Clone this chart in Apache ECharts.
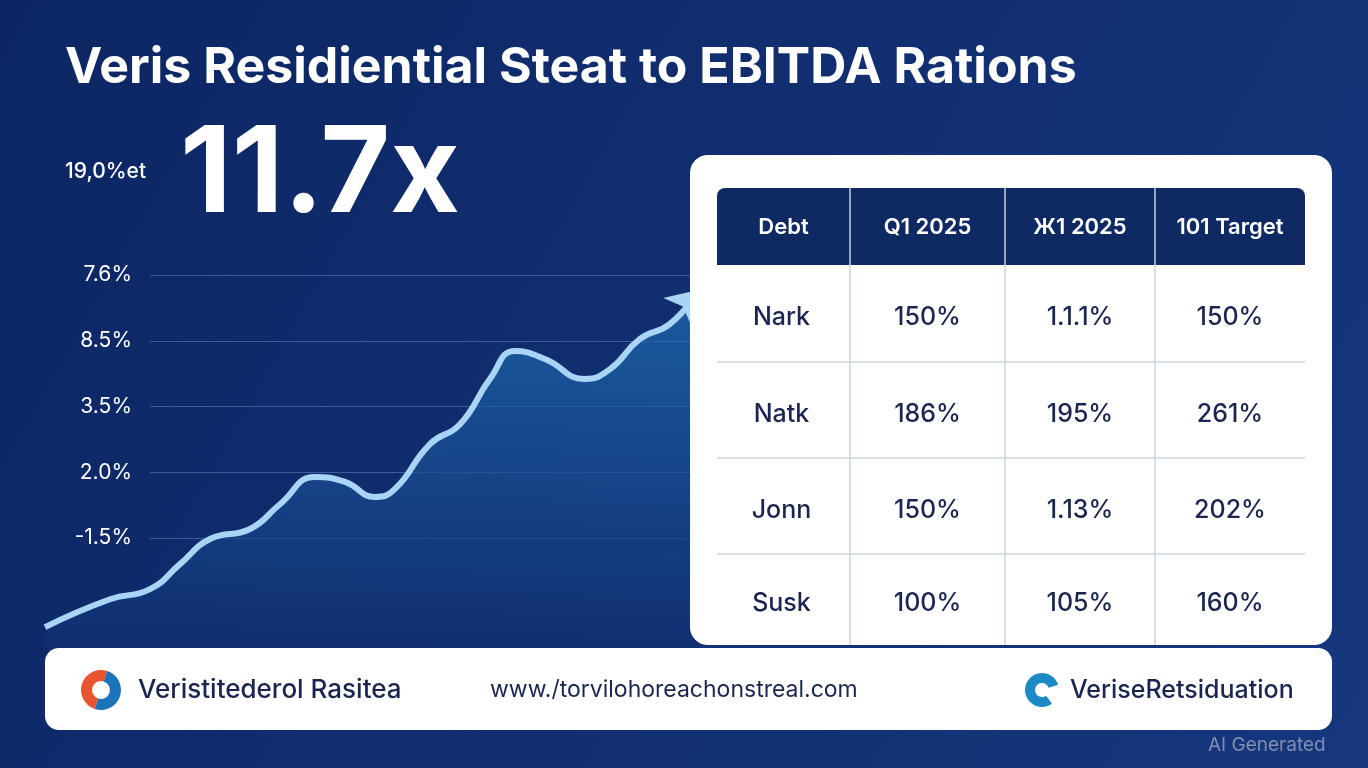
<!DOCTYPE html>
<html><head><meta charset="utf-8">
<script src="https://cdn.jsdelivr.net/npm/echarts@6/dist/echarts.min.js"></script>
<style>html,body{margin:0;padding:0;background:#0f2a63}#c{width:1368px;height:768px}</style>
</head><body><div id="c"></div>
<script>
const title = 'Veris Residiential Steat to EBITDA Rations';
const kpiLabel = '19,0%et';
const kpiValue = '11.7x';
const yTickLabels = ['-1.5%', '2.0%', '3.5%', '8.5%', '7.6%'];
const lineX = [0,6.5,10.5,13.5,16.5,20.5,23.5,27,30,33,35,38.5,41.5,44.5,47,50,54,56.5,59.5,62.5,65.5];
const lineY = [0,8,10.9,18.1,25.3,28.2,35.3,43.1,41.7,37.4,39.7,52.6,58.3,71.3,79.3,77,71.3,74.1,82.8,87.1,97];
const tableHeader = ['Debt', 'Q1 2025', 'Ж1 2025', '101 Target'];
const tableRows = [
  ['Nark', '150%', '1.1.1%', '150%'],
  ['Natk', '186%', '195%', '261%'],
  ['Jonn', '150%', '1.13%', '202%'],
  ['Susk', '100%', '105%', '160%']
];
const footerLeft = 'Veristitederol Rasitea';
const footerUrl = 'www./torvilohoreachonstreal.com';
const footerRight = 'VeriseRetsiduation';

const chart = echarts.init(document.getElementById('c'));
const F = 'Inter, "Noto Sans", sans-serif';
const g = [];
g.push({type:'rect',shape:{x:690,y:155,width:642,height:490,r:18},style:{fill:'#fff'},z:10});
g.push({type:'rect',shape:{x:717,y:188,width:588,height:77,r:[8,8,0,0]},style:{fill:'#0f2a63'},z:11});
const colX=[717,850,1005,1155,1305];
const rowY=[265,362,458,554,645];
for(let i=1;i<4;i++) g.push({type:'line',shape:{x1:colX[i],y1:188,x2:colX[i],y2:645},style:{stroke:'#c9d3e0',lineWidth:1.5},z:12});
for(let i=1;i<4;i++) g.push({type:'line',shape:{x1:717,y1:rowY[i],x2:1305,y2:rowY[i]},style:{stroke:'#c9d3e0',lineWidth:1.5},z:12});
tableHeader.forEach((t,i)=>g.push({type:'text',x:(colX[i]+colX[i+1])/2,y:227,style:{text:t,fill:'#fff',font:'600 22px '+F,textAlign:'center',textVerticalAlign:'middle'},z:13}));
tableRows.forEach((r,ri)=>r.forEach((t,i)=>g.push({type:'text',x:(colX[i]+colX[i+1])/2-(i==0?2:0),y:(rowY[ri]+rowY[ri+1])/2+4,style:{text:t,fill:'#1a2550',font:'500 25px '+F,textAlign:'center',textVerticalAlign:'middle'},z:13})));
g.push({type:'rect',shape:{x:45,y:648,width:1287,height:82,r:14},style:{fill:'#fff'},z:10});
g.push({type:'sector',shape:{cx:101,cy:690,r:20,r0:9,startAngle:Math.PI*0.6,endAngle:Math.PI*1.6},style:{fill:'#e8542f'},z:11});
g.push({type:'sector',shape:{cx:101,cy:690,r:20,r0:9,startAngle:-Math.PI*0.4,endAngle:Math.PI*0.6},style:{fill:'#1c74b8'},z:11});
g.push({type:'text',x:138,y:690,style:{text:footerLeft,fill:'#1a2550',font:'500 26px '+F,textVerticalAlign:'middle'},z:11});
g.push({type:'text',x:490,y:690,style:{text:footerUrl,fill:'#1a2550',font:'400 23px '+F,textVerticalAlign:'middle'},z:11});
g.push({type:'sector',shape:{cx:1042,cy:690,r:17,r0:7,startAngle:Math.PI*0.3,endAngle:Math.PI*1.9},style:{fill:'#1c8ac4'},z:11});
g.push({type:'text',x:1070,y:690,style:{text:footerRight,fill:'#1a2550',font:'500 25px '+F,textVerticalAlign:'middle'},z:11});
g.push({type:'text',x:1208,y:745,style:{text:'AI Generated',fill:'rgba(200,200,210,0.6)',font:'400 19px '+F,textVerticalAlign:'middle'},z:11});
g.push({type:'text',x:65,y:68,style:{text:title,fill:'#fff',font:'700 50px '+F,textVerticalAlign:'middle'},z:5});
g.push({type:'text',x:65,y:172,style:{text:kpiLabel,fill:'#fff',font:'500 21px '+F,textVerticalAlign:'middle'},z:5});
g.push({type:'text',x:180,y:176,style:{text:kpiValue,fill:'#fff',font:'700 120px '+F,textVerticalAlign:'middle'},z:5});

const data = lineX.map((x,i)=>{
  const d={value:[x,lineY[i]]};
  if(i===lineX.length-1){d.symbol='arrow';d.symbolSize=[30,32];d.symbolRotate=-45;d.itemStyle={color:'#a9d4f5'};}
  return d;
});
chart.setOption({
  backgroundColor:{type:'linear',x:0,y:0,x2:1,y2:1,colorStops:[{offset:0,color:'#0d2663'},{offset:1,color:'#15377e'}]},
  graphic:g,
  grid:[{left:150,width:540,top:275,height:263},{left:45,width:660,top:279,bottom:120}],
  xAxis:[{gridIndex:0,type:'value',show:false},{gridIndex:1,type:'value',min:0,max:66,show:false}],
  yAxis:[{gridIndex:0,type:'category',data:yTickLabels,boundaryGap:false,axisLine:{show:false},axisTick:{show:false},
          axisLabel:{color:'#fff',fontSize:21,fontFamily:F,margin:18,align:'right'},
          splitLine:{show:true,lineStyle:{color:'rgba(120,150,210,0.45)',width:1}}},
         {gridIndex:1,type:'value',min:-6,max:100,show:false}],
  series:[{type:'line',xAxisIndex:1,yAxisIndex:1,data:data,smooth:0.5,showSymbol:true,symbol:'none',
    lineStyle:{color:'#a9d4f5',width:6},
    areaStyle:{origin:'start',color:{type:'linear',x:0,y:0,x2:0,y2:1,colorStops:[{offset:0,color:'#1f70b3'},{offset:1,color:'#102f73'}]}},z:3}]
});
</script></body></html>
